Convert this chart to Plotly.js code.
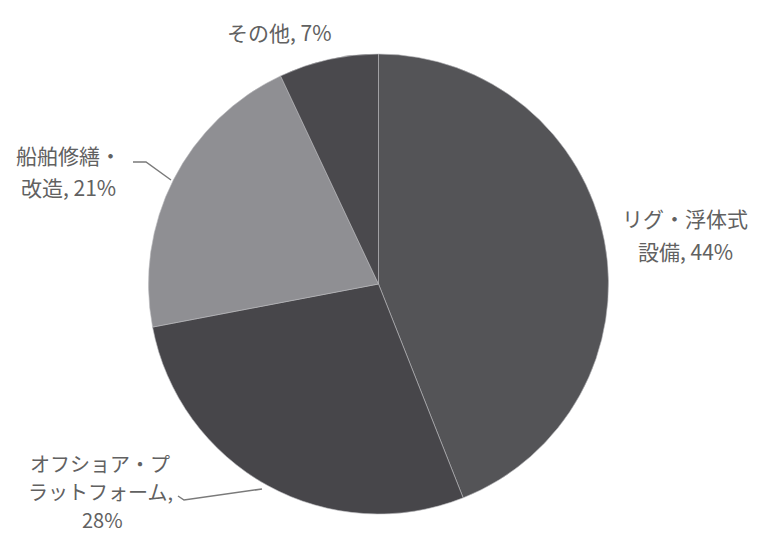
<!DOCTYPE html>
<html><head><meta charset="utf-8">
<script src="https://cdn.plot.ly/plotly-3.0.1.min.js"></script>
<style>html,body{margin:0;padding:0;background:#fff;}#chart{width:759px;height:534px;}</style>
</head><body><div id="chart"></div>
<script>
// Data
const categories = ['リグ・浮体式設備', 'オフショア・プラットフォーム', '船舶修繕・改造', 'その他'];
const shares = [44, 28, 21, 7];
const sliceColors = ['#545457', '#47464a', '#8f8f93', '#4a494d'];
// label line breaks as drawn in the chart
const labelLines = [
  ['リグ・浮体式', '設備, 44%'],
  ['オフショア・プ', 'ラットフォーム,', '28%'],
  ['船舶修繕・', '改造, 21%'],
  ['その他, 7%']
];

const W = 759, H = 534;
const cx = 378.5, cy = 284, r = 230;

// label placement (pixel centers of each line) and font size per label
const labelPos = [
  [[685, 218], [685, 251]],
  [[100, 463], [100, 491], [102, 519]],
  [[68, 155], [68, 187]],
  [[279, 32]]
];
const labelSize = [21, 20, 21, 21];

const annotations = [];
labelLines.forEach((lines, i) => {
  lines.forEach((t, j) => {
    const p = labelPos[i][j];
    annotations.push({
      text: t, xref: 'paper', yref: 'paper',
      x: p[0] / W, y: 1 - p[1] / H, xanchor: 'center', yanchor: 'middle',
      showarrow: false, borderpad: 0,
      font: {family: '"Noto Sans CJK JP", "Noto Sans", sans-serif', size: labelSize[i], color: '#616161'}
    });
  });
});

function px(x){return x / W;}
function py(y){return 1 - y / H;}
const shapes = [
  {type: 'path', xref: 'paper', yref: 'paper',
   path: `M ${px(133)} ${py(162)} L ${px(146)} ${py(162)} L ${px(171)} ${py(180)}`,
   line: {color: '#7a7a7a', width: 1.5}},
  {type: 'path', xref: 'paper', yref: 'paper',
   path: `M ${px(178)} ${py(496)} L ${px(184)} ${py(500)} L ${px(262)} ${py(489)}`,
   line: {color: '#7a7a7a', width: 1.5}}
];

const data = [{
  type: 'pie',
  labels: categories,
  values: shares,
  sort: false,
  direction: 'clockwise',
  rotation: 0,
  textinfo: 'none',
  hoverinfo: 'label+percent',
  marker: {colors: sliceColors, line: {color: '#b8b8bc', width: 0.6}},
  domain: {x: [(cx - r) / W, (cx + r) / W], y: [(H - cy - r) / H, (H - cy + r) / H]},
  showlegend: false
}];

const layout = {
  width: W, height: H,
  margin: {l: 0, r: 0, t: 0, b: 0},
  paper_bgcolor: '#ffffff',
  plot_bgcolor: '#ffffff',
  annotations: annotations,
  shapes: shapes,
  showlegend: false
};

Plotly.newPlot('chart', data, layout, {staticPlot: true});
</script>
</body></html>
